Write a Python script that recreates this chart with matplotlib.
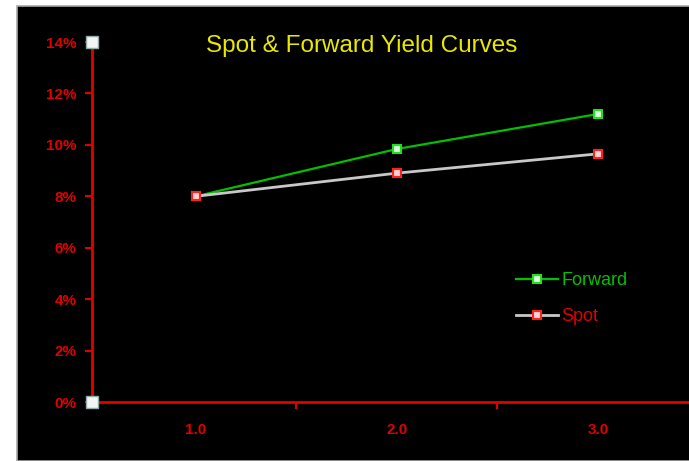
import matplotlib.pyplot as plt
from matplotlib.patches import Rectangle
from matplotlib.ticker import FuncFormatter

# data
maturities = [1, 2, 3]
maturity_labels = ['1.0', '2.0', '3.0']
forward = [0.080, 0.0984, 0.1120]
spot = [0.080, 0.089, 0.0965]

plt.rcParams['font.family'] = ['Liberation Sans', 'DejaVu Sans']

red = '#e00000'
green = '#00c000'

fig = plt.figure(figsize=(6.89, 4.61), dpi=100)
fig.patch.set_facecolor('white')
# black panel with grey frame
fig.patches.append(Rectangle((17 / 689, 0), 1, 1 - 6 / 461, transform=fig.transFigure,
                             facecolor='black', edgecolor='#a8a8a8', linewidth=1.2, zorder=-1))

ax = fig.add_axes([92 / 689, 1 - 402 / 461, 1 - 92 / 689, (402 - 42) / 461])
ax.set_zorder(1)
ax.patch.set_alpha(0)

ax.plot(maturities, forward, color=green, lw=1.6, marker='s', markersize=5.5,
        markerfacecolor='#d8ffd8', markeredgecolor='#20e020', markeredgewidth=1.5, label='Forward')
ax.plot(maturities, spot, color='#c8c8c8', lw=2.0, marker='s', markersize=5.5,
        markerfacecolor='#ffd0d0', markeredgecolor='#ff2020', markeredgewidth=1.5, label='Spot')

ax.set_xlim(0.483, 3.453)
ax.set_ylim(0, 0.14)
ax.set_yticks([0, 0.02, 0.04, 0.06, 0.08, 0.10, 0.12, 0.14])
ax.yaxis.set_major_formatter(FuncFormatter(lambda v, p: f'{v * 100:.0f}%'))
ax.set_xticks(maturities)
ax.set_xticklabels(maturity_labels)
ax.set_xticks([1.5, 2.5], minor=True)

for s in ['top', 'right']:
    ax.spines[s].set_visible(False)
for s in ['left', 'bottom']:
    ax.spines[s].set_color(red)
    ax.spines[s].set_linewidth(2)

ax.tick_params(axis='y', colors=red, length=5, width=1.5, pad=6, labelsize=11)
ax.tick_params(axis='x', which='major', colors=red, length=0, pad=15, labelsize=11)
ax.tick_params(axis='x', which='minor', colors=red, length=5, width=1.5)
for lbl in ax.get_xticklabels() + ax.get_yticklabels():
    lbl.set_fontweight('bold')

# little white handles at the axis ends
ax.plot([0, 0], [0, 1], transform=ax.transAxes, linestyle='none', marker='s', markersize=8,
        markerfacecolor='#f4f4f4', markeredgecolor='#90a8a8', markeredgewidth=1, clip_on=False, zorder=5)

fig.text(362 / 689, 1 - 46 / 461, 'Spot & Forward Yield Curves', color='#e8e800',
         fontsize=17.5, ha='center', va='center')

leg = ax.legend(loc='upper left', bbox_to_anchor=(500 / 689, 1 - 256 / 461), bbox_transform=fig.transFigure,
                frameon=False, fontsize=13, handlelength=2.3, handletextpad=0.2, labelspacing=1.05,
                labelcolor=[green, red])

fig.savefig('out.png', dpi=100, facecolor=fig.get_facecolor())
